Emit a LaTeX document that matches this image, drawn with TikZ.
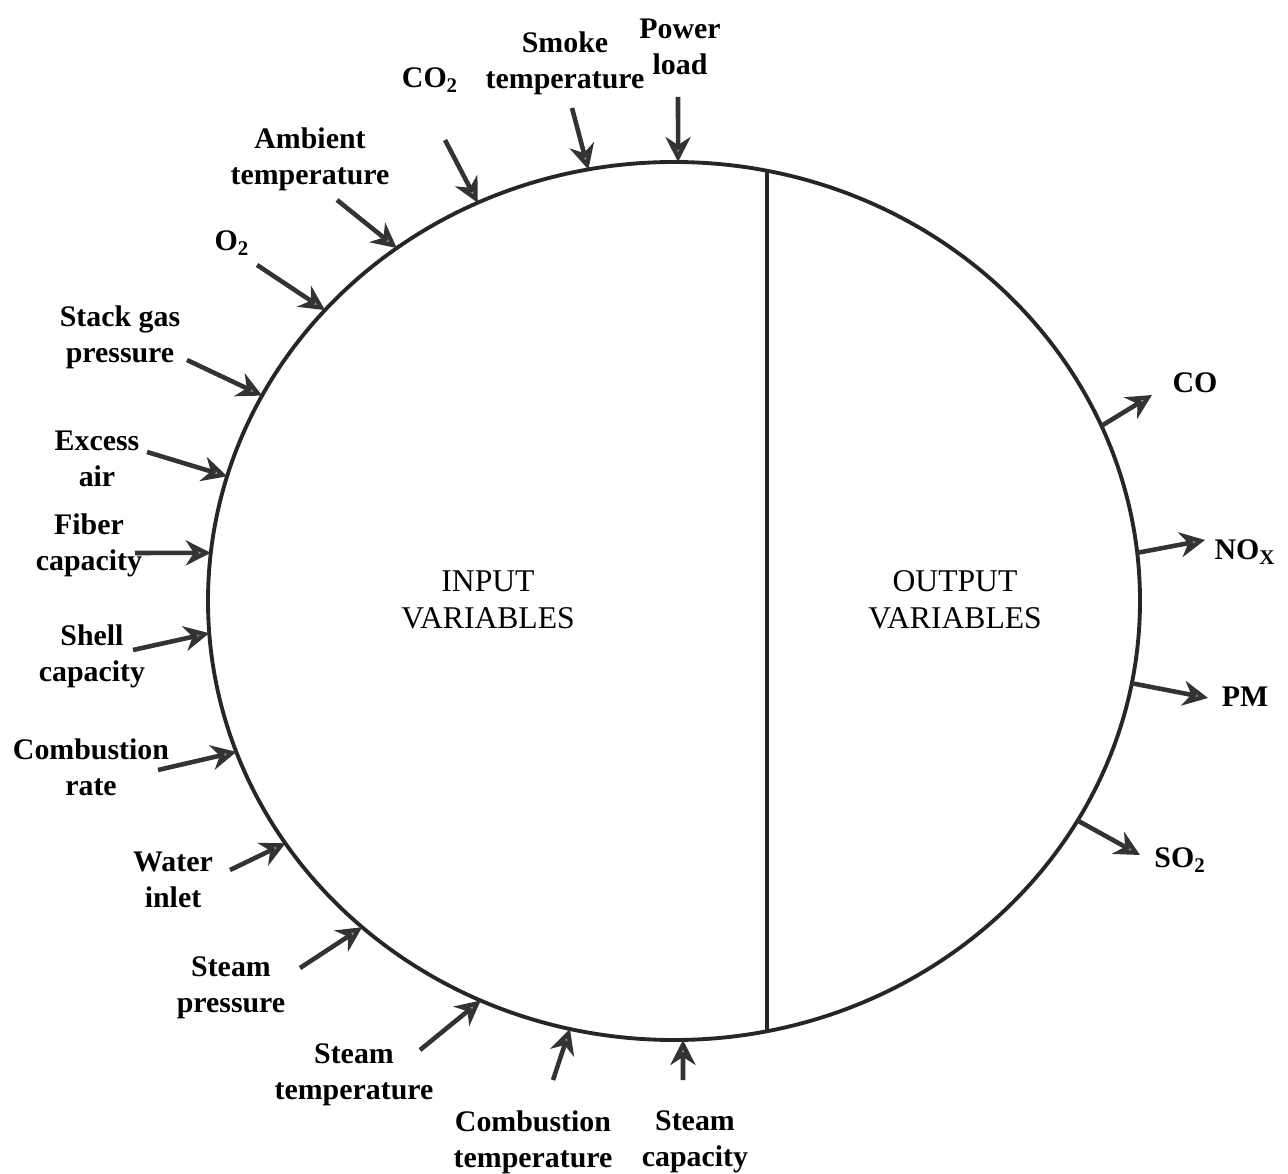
\documentclass[tikz,border=0pt]{standalone}
\usepackage{fontspec}
\setmainfont{Liberation Serif}
\usetikzlibrary{calc,arrows.meta}

\tikzset{
  lbl/.style={font=\bfseries\fontsize{17}{20.5}\selectfont, align=center, inner sep=0pt},
  part/.style={font=\fontsize{18}{21}\selectfont, align=center, inner sep=0pt},
  flow/.style={line width=2.6pt, draw=black!80,
    -{Stealth[length=5mm,width=5mm,inset=1.6mm,fill=black!40]}},
}

\begin{document}
\begin{tikzpicture}
\useasboundingbox (0,0) rectangle (25.76,23.46);

% Centre and radii of the boiler ellipse
\def\erx{9.32}
\def\ery{8.78}
\coordinate (C) at (13.48, 11.44);

% Draw the ellipse and the dividing line
\draw[line width=2.2pt, black!85] (C) ellipse [x radius=\erx, y radius=\ery];
\coordinate (Top) at (15.34, 20.04);
\coordinate (Bot) at (15.34, 2.84);
\draw[line width=2.2pt, black!85] (Top) -- (Bot);

% Inside labels
\node[part] (in) at (9.76, 11.46) {INPUT\\VARIABLES};
\node[part] (out) at (19.10, 11.46) {OUTPUT\\VARIABLES};

% Input labels
\node[lbl] (power) at (13.60, 22.52) {Power\\load};
\node[lbl] (smoke) at (11.30, 22.20) {Smoke\\temperature};
\node[lbl] (co2) at (8.60, 21.86) {CO\textsubscript{2}};
\node[lbl] (amb) at (6.20, 20.28) {Ambient\\temperature};
\node[lbl] (o2) at (4.64, 18.60) {O\textsubscript{2}};
\node[lbl] (stack) at (2.40, 16.72) {Stack gas\\pressure};
\node[lbl] (excess) at (1.94, 14.28) {Excess\\air};
\node[lbl] (fiber) at (1.78, 12.56) {Fiber\\capacity};
\node[lbl] (shell) at (1.84, 10.34) {Shell\\capacity};
\node[lbl] (crate) at (1.82, 8.12) {Combustion\\rate};
\node[lbl] (water) at (3.46, 5.86) {Water\\inlet};
\node[lbl] (spress) at (4.62, 3.70) {Steam\\pressure};
\node[lbl] (stemp) at (7.08, 1.96) {Steam\\temperature};
\node[lbl] (ctemp) at (10.66, 0.62) {Combustion\\temperature};
\node[lbl] (scap) at (13.90, 0.62) {Steam\\capacity};

% Output labels
\node[lbl] (co) at (23.90, 15.80) {CO};
\node[lbl] (nox) at (24.90, 12.42) {NO\textsubscript{X}};
\node[lbl] (pm) at (24.90, 9.52) {PM};
\node[lbl] (so2) at (23.60, 6.26) {SO\textsubscript{2}};

% Arrow tails
\coordinate (power-t) at (13.56, 21.52);
\coordinate (smoke-t) at (11.44, 21.30);
\coordinate (co2-t) at (8.90, 20.66);
\coordinate (amb-t) at (6.74, 19.46);
\coordinate (o2-t) at (5.14, 18.16);
\coordinate (stack-t) at (3.74, 16.26);
\coordinate (excess-t) at (2.94, 14.42);
\coordinate (fiber-t) at (2.70, 12.40);
\coordinate (shell-t) at (2.66, 10.46);
\coordinate (crate-t) at (3.16, 8.06);
\coordinate (water-t) at (4.60, 6.06);
\coordinate (spress-t) at (6.00, 4.10);
\coordinate (stemp-t) at (8.40, 2.46);
\coordinate (ctemp-t) at (11.06, 1.86);
\coordinate (scap-t) at (13.66, 1.86);

% Arrow heads on the ellipse
\coordinate (power-h) at ($(C)+(89.5:\erx cm and \ery cm)$);
\coordinate (smoke-h) at ($(C)+(100.6:\erx cm and \ery cm)$);
\coordinate (co2-h) at ($(C)+(114.9:\erx cm and \ery cm)$);
\coordinate (amb-h) at ($(C)+(126.5:\erx cm and \ery cm)$);
\coordinate (o2-h) at ($(C)+(138.5:\erx cm and \ery cm)$);
\coordinate (stack-h) at ($(C)+(152.1:\erx cm and \ery cm)$);
\coordinate (excess-h) at ($(C)+(163.5:\erx cm and \ery cm)$);
\coordinate (fiber-h) at ($(C)+(173.7:\erx cm and \ery cm)$);
\coordinate (shell-h) at ($(C)+(184.2:\erx cm and \ery cm)$);
\coordinate (crate-h) at ($(C)+(200.1:\erx cm and \ery cm)$);
\coordinate (water-h) at ($(C)+(213.5:\erx cm and \ery cm)$);
\coordinate (spress-h) at ($(C)+(228:\erx cm and \ery cm)$);
\coordinate (stemp-h) at ($(C)+(245.5:\erx cm and \ery cm)$);
\coordinate (ctemp-h) at ($(C)+(257.1:\erx cm and \ery cm)$);
\coordinate (scap-h) at ($(C)+(271.1:\erx cm and \ery cm)$);

% Input arrows
\draw[flow] (power-t) -- (power-h);
\draw[flow] (smoke-t) -- (smoke-h);
\draw[flow] (co2-t) -- (co2-h);
\draw[flow] (amb-t) -- (amb-h);
\draw[flow] (o2-t) -- (o2-h);
\draw[flow] (stack-t) -- (stack-h);
\draw[flow] (excess-t) -- (excess-h);
\draw[flow] (fiber-t) -- (fiber-h);
\draw[flow] (shell-t) -- (shell-h);
\draw[flow] (crate-t) -- (crate-h);
\draw[flow] (water-t) -- (water-h);
\draw[flow] (spress-t) -- (spress-h);
\draw[flow] (stemp-t) -- (stemp-h);
\draw[flow] (ctemp-t) -- (ctemp-h);
\draw[flow] (scap-t) -- (scap-h);

% Output arrows: start on the ellipse
\coordinate (co-s) at ($(C)+(23.5:\erx cm and \ery cm)$);
\coordinate (nox-s) at ($(C)+(6.3:\erx cm and \ery cm)$);
\coordinate (pm-s) at ($(C)+(-10.8:\erx cm and \ery cm)$);
\coordinate (so2-s) at ($(C)+(-30:\erx cm and \ery cm)$);
\coordinate (co-e) at (23.04, 15.56);
\coordinate (nox-e) at (24.10, 12.66);
\coordinate (pm-e) at (24.16, 9.50);
\coordinate (so2-e) at (22.80, 6.36);
\draw[flow] (co-s) -- (co-e);
\draw[flow] (nox-s) -- (nox-e);
\draw[flow] (pm-s) -- (pm-e);
\draw[flow] (so2-s) -- (so2-e);

\end{tikzpicture}
\end{document}
